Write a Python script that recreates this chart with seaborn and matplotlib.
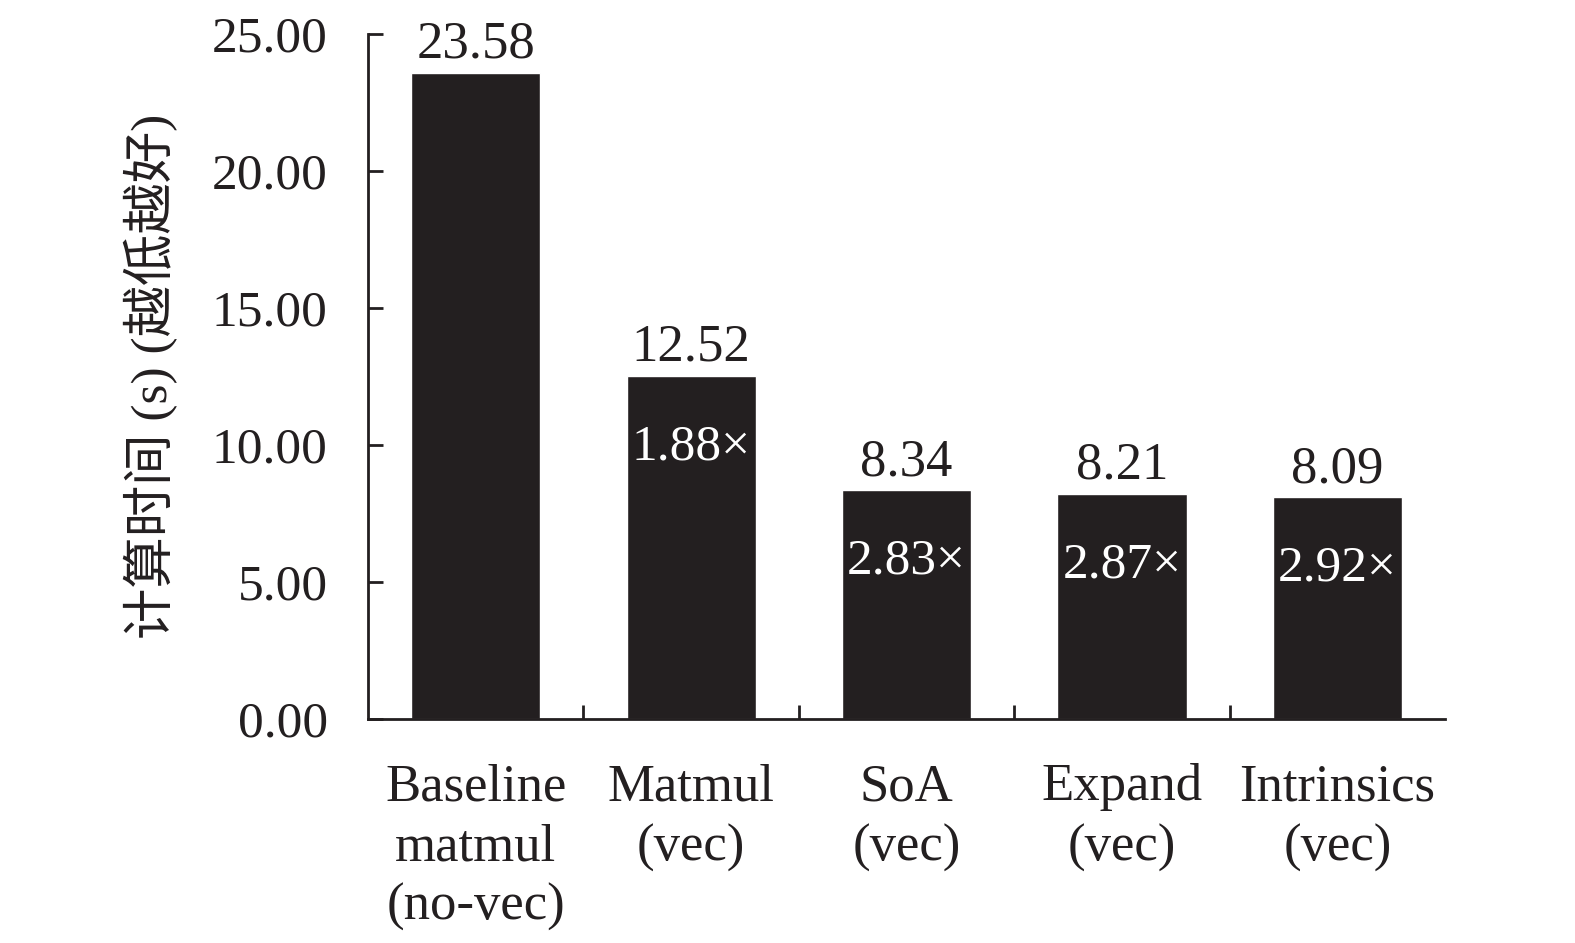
import numpy as np
import pandas as pd
import matplotlib
matplotlib.use("Agg")
import matplotlib.pyplot as plt
import seaborn as sns

# data
categories = ["Baseline\nmatmul\n(no-vec)", "Matmul\n(vec)", "SoA\n(vec)", "Expand\n(vec)", "Intrinsics\n(vec)"]
times = [23.58, 12.52, 8.34, 8.21, 8.09]
speedups = ["", "1.88×", "2.83×", "2.87×", "2.92×"]
yticks = [0, 5, 10, 15, 20, 25]

ink = "#231f20"

sns.set_style("ticks")
plt.rcParams['font.family'] = ['Liberation Serif', 'Noto Sans CJK SC']
plt.rcParams['axes.unicode_minus'] = False

df = pd.DataFrame({"cat": categories, "t": times})

fig = plt.figure(figsize=(15.75, 9.43), dpi=100)
ax = fig.add_axes([0.2337, 0.2375, 0.9175 - 0.2337, 0.964 - 0.2375])

sns.barplot(data=df, x="cat", y="t", color=ink, saturation=1, width=0.6, ax=ax)

ax.set_ylim(0, 25)
ax.set_xlim(-0.5, len(categories) - 0.5)
ax.set_yticks(yticks)
ax.set_yticklabels(["%.2f" % v for v in yticks])

# value labels on top
ax.bar_label(ax.containers[0], labels=["%.2f" % v for v in times],
             padding=3, fontsize=38, color=ink)

# speedup labels inside the bars
for p, s in zip(ax.patches, speedups):
    if s:
        ax.text(p.get_x() + p.get_width() / 2, p.get_height() - 2.6, s,
                ha="center", va="center", fontsize=37, color="white",
                family=['Liberation Serif', 'DejaVu Serif'])

ax.set_xlabel("")
ax.set_ylabel("计算时间 (s) (越低越好)", fontsize=37, color=ink, labelpad=24)

for side in ["top", "right"]:
    ax.spines[side].set_visible(False)
for side in ["left", "bottom"]:
    ax.spines[side].set_color(ink)
    ax.spines[side].set_linewidth(2)

ax.tick_params(axis="y", direction="in", length=11, width=2, color=ink,
               labelsize=37, labelcolor=ink, pad=29)
ax.tick_params(axis="x", which="major", length=0, labelsize=38,
               labelcolor=ink, pad=32)
ax.set_xticks(np.arange(0.5, len(categories) - 0.5), minor=True)
ax.tick_params(axis="x", which="minor", direction="in", length=10, width=2, color=ink)
for lab in ax.get_xticklabels():
    lab.set_linespacing(1.32)

fig.savefig("out.png", dpi=100)
